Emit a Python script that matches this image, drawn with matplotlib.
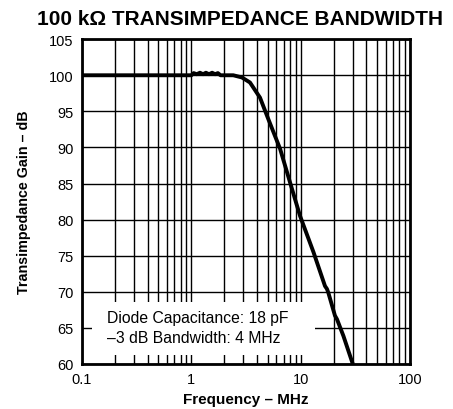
import numpy as np
import matplotlib
matplotlib.use('Agg')
import matplotlib.pyplot as plt
from matplotlib.ticker import LogLocator, FixedLocator, NullFormatter, FixedFormatter
from matplotlib.patches import Rectangle

plt.rcParams['font.family'] = ['Liberation Sans', 'DejaVu Sans']

# curve (frequency in MHz, gain in dB)
freq_mhz = [0.1, 0.5, 1.0, 1.05, 1.12, 1.2, 1.28, 1.36, 1.45, 1.55, 1.65, 1.75, 1.85,
            2.1, 2.42, 2.9, 3.44, 4.25, 5.07, 6.49, 8.0, 9.88, 13.1, 16.7, 17.4, 17.9,
            20.6, 21.5, 24.6, 30.0]
gain_db = [100.0, 100.0, 100.0, 100.3, 100.15, 100.35, 100.15, 100.35, 100.15, 100.35,
           100.15, 100.3, 100.0, 100.0, 100.0, 99.7, 99.0, 96.9, 93.9, 89.8, 85.15, 80.5,
           75.5, 70.8, 70.4, 69.9, 66.7, 66.2, 63.9, 60.0]

y_ticks = [60, 65, 70, 75, 80, 85, 90, 95, 100, 105]
x_ticks = [0.1, 1, 10, 100]
x_tick_labels = ['0.1', '1', '10', '100']

note_lines = ['Diode Capacitance: 18 pF', '\u20133 dB Bandwidth: 4 MHz']

fig = plt.figure(figsize=(4.53, 4.10), dpi=100)
ax = fig.add_axes([0.181, 0.1098, 0.724, 0.7922])

ax.set_xscale('log')
ax.set_xlim(0.1, 100)
ax.set_ylim(60, 105)

ax.xaxis.set_major_locator(FixedLocator(x_ticks))
ax.xaxis.set_major_formatter(FixedFormatter(x_tick_labels))
ax.xaxis.set_minor_locator(LogLocator(base=10, subs=np.arange(2, 10)))
ax.xaxis.set_minor_formatter(NullFormatter())
ax.yaxis.set_major_locator(FixedLocator(y_ticks))

ax.grid(True, which='both', axis='x', color='black', linewidth=1.0)
ax.grid(True, which='major', axis='y', color='black', linewidth=1.0)
ax.tick_params(which='both', length=0, labelsize=10.5, pad=6)

# white box behind the note
ax.add_patch(Rectangle((0.123, 61.2), 13.5 - 0.123, 68.6 - 61.2,
                       facecolor='white', edgecolor='none', zorder=2.5))

ax.plot(freq_mhz, gain_db, color='black', linewidth=2.8, zorder=4,
        solid_joinstyle='round', solid_capstyle='butt')

ax.text(0.168, 66.5, note_lines[0], fontsize=11.3, ha='left', va='center', zorder=5)
ax.text(0.168, 63.6, note_lines[1], fontsize=11.3, ha='left', va='center', zorder=5)

for s in ax.spines.values():
    s.set_linewidth(2.0)
    s.set_zorder(6)

ax.set_xlabel('Frequency \u2013 MHz', fontsize=11, fontweight='bold', labelpad=4)
ax.set_ylabel('Transimpedance Gain \u2013 dB', fontsize=10.3, fontweight='bold', labelpad=13)
fig.text(0.530, 0.953, '100 k\u03a9 TRANSIMPEDANCE BANDWIDTH', fontsize=15,
         fontweight='bold', ha='center', va='center')

fig.savefig('out.png', dpi=100)
